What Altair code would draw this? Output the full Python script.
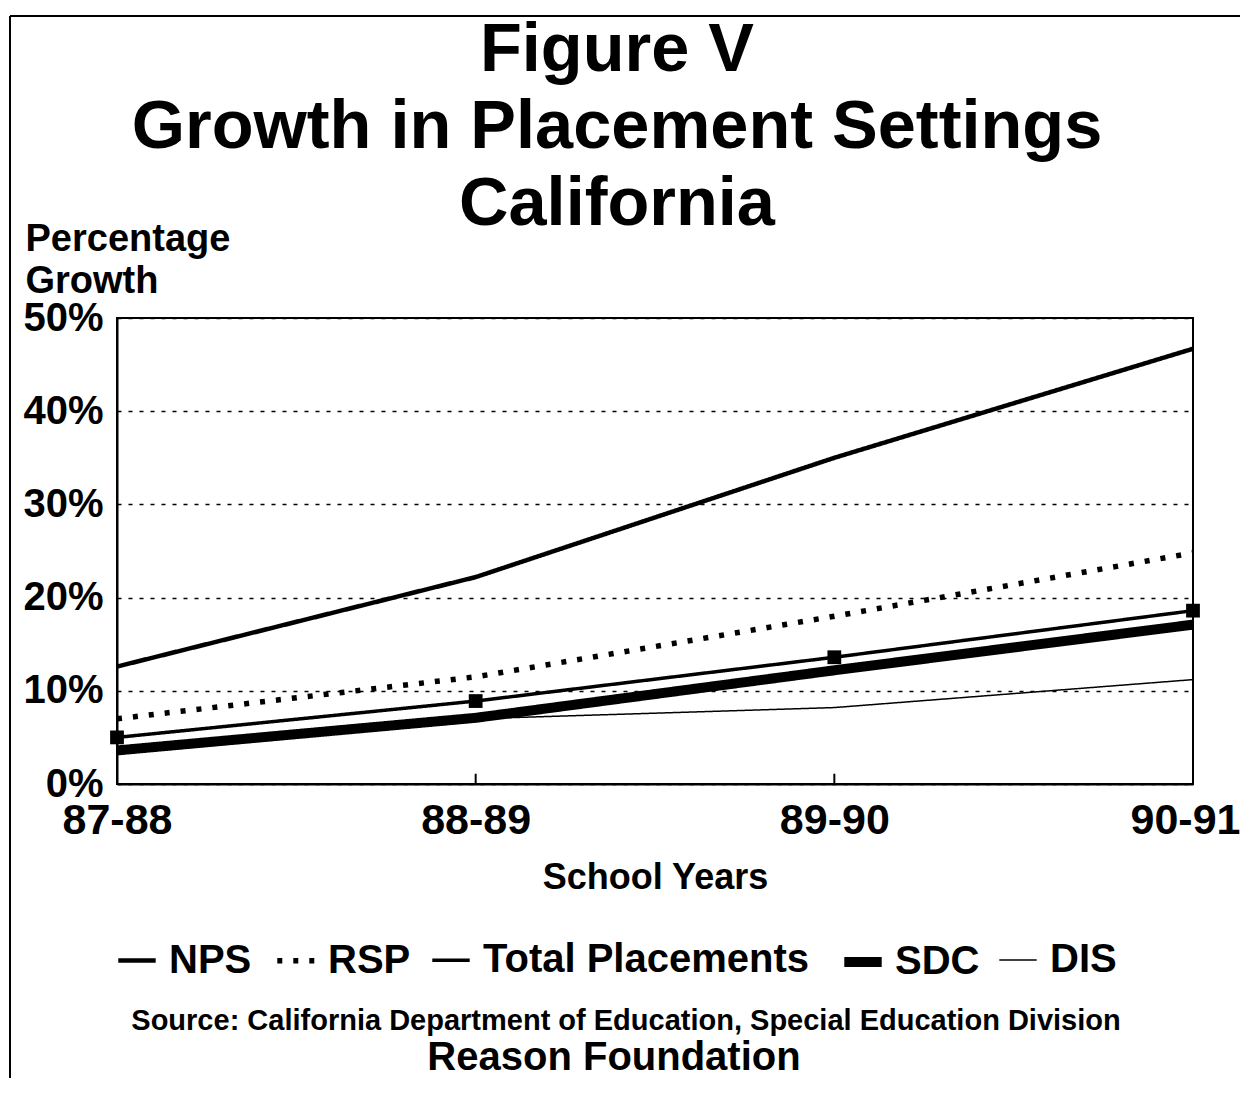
import altair as alt
import pandas as pd

years = ["87-88", "88-89", "89-90", "90-91"]
series_names = ["NPS", "RSP", "Total Placements", "SDC", "DIS"]
nps = [12.6, 22.2, 35.0, 46.7]
rsp = [7.0, 11.5, 18.0, 24.8]
total = [5.0, 8.9, 13.6, 18.6]
sdc = [3.6, 7.1, 12.2, 17.1]
dis = [3.3, 7.0, 8.2, 11.2]
y_ticks = [0, 10, 20, 30, 40, 50]

rows = []
for name, vals in zip(series_names, [nps, rsp, total, sdc, dis]):
    for yr, v in zip(years, vals):
        rows.append({"year": yr, "value": v, "series": name})
df = pd.DataFrame(rows)

FONT = "Liberation Sans"

dash_range = [[1, 0], [5, 11], [1, 0], [1, 0], [1, 0]]
width_range = [4.5, 5.5, 3.5, 10, 1.5]

legend_params = dict(
    title=None, orient="none", legendX=-4, legendY=620, direction="horizontal",
    columns=5, labelFont=FONT, labelFontSize=40, labelFontWeight="bold",
    labelColor="black", symbolType="stroke", symbolSize=1400,
    symbolStrokeColor="black", labelOffset=8, columnPadding=14, padding=0,
    labelLimit=600,
)

x_enc = alt.X(
    "year:N", sort=years, scale=alt.Scale(type="point", padding=0),
    axis=alt.Axis(title="School Years", labelFont=FONT, labelFontSize=43,
                  labelFontWeight="bold", labelColor="black", labelAngle=0,
                  labelPadding=15, ticks=False, domainColor="black",
                  domainWidth=2, titleFont=FONT, titleFontSize=36,
                  titleFontWeight="bold", titleColor="black", titlePadding=18,
                  grid=False,
                  labelOffset={"condition": {"test": "datum.value == '90-91'", "value": -8},
                               "value": 0}),
)
y_enc = alt.Y(
    "value:Q", scale=alt.Scale(domain=[0, 50], nice=False),
    axis=alt.Axis(values=y_ticks, labelExpr="datum.value + '%'",
                  labelFont=FONT, labelFontSize=40, labelFontWeight="bold",
                  labelColor="black", labelPadding=14, ticks=False,
                  domainColor="black", domainWidth=2, grid=True,
                  gridColor="black", gridDash=[4, 7], gridWidth=1.5,
                  title=["Percentage", "Growth"], titleAngle=0,
                  titleAlign="left", titleBaseline="top", titleX=-92,
                  titleY=-98, titleFont=FONT, titleFontSize=38,
                  titleFontWeight="bold", titleColor="black",
                  titleLineHeight=42),
)

lines = alt.Chart(df).mark_line(strokeCap="butt", color="black").encode(
    x=x_enc, y=y_enc,
    strokeDash=alt.StrokeDash("series:N", sort=series_names,
                              scale=alt.Scale(domain=series_names, range=dash_range),
                              legend=alt.Legend(**legend_params)),
    strokeWidth=alt.StrokeWidth("series:N", sort=series_names,
                                scale=alt.Scale(type="ordinal", domain=series_names,
                                                range=width_range),
                                legend=alt.Legend(**legend_params)),
)

squares = alt.Chart(df).transform_filter(
    alt.datum.series == "Total Placements"
).mark_square(size=190, color="black", opacity=1, filled=True).encode(
    x=alt.X("year:N", sort=years), y="value:Q"
)

ticks = alt.Chart(pd.DataFrame({"year": years})).mark_rule(
    color="black", strokeWidth=2
).encode(x=alt.X("year:N", sort=years), y=alt.datum(0), y2=alt.datum(1.1))

frame_left = alt.Chart(pd.DataFrame({"a": [0]})).mark_rule(
    color="black", strokeWidth=2
).encode(x=alt.value(-107), y=alt.value(-302), y2=alt.value(800))
frame_top = alt.Chart(pd.DataFrame({"a": [0]})).mark_rule(
    color="black", strokeWidth=2
).encode(x=alt.value(-107), x2=alt.value(1140), y=alt.value(-302))

source = alt.Chart(pd.DataFrame({"a": [0]})).mark_text(
    font=FONT, fontSize=29, fontWeight="bold", color="black",
    align="center", baseline="alphabetic"
).encode(x=alt.value(509), y=alt.value(712),
         text=alt.value("Source: California Department of Education, Special Education Division"))
reason = alt.Chart(pd.DataFrame({"a": [0]})).mark_text(
    font=FONT, fontSize=40, fontWeight="bold", color="black",
    align="center", baseline="alphabetic"
).encode(x=alt.value(497), y=alt.value(752), text=alt.value("Reason Foundation"))

chart = alt.layer(frame_left, frame_top, lines, squares, ticks, source, reason).properties(
    width=1076, height=466,
    title=alt.TitleParams(
        text=["Figure V", "Growth in Placement Settings", "California"],
        font=FONT, fontSize=68.5, fontWeight="bold", color="black",
        lineHeight=77, anchor="middle", frame="group", dx=-38, offset=0, dy=224,
    ),
    autosize=alt.AutoSizeParams(type="none"),
    padding={"left": 109, "top": 310, "right": 47, "bottom": 294},
    background="white",
).configure_view(stroke="black", strokeWidth=2)

chart.save("out.html", embed_options={"renderer": "svg", "actions": False})
